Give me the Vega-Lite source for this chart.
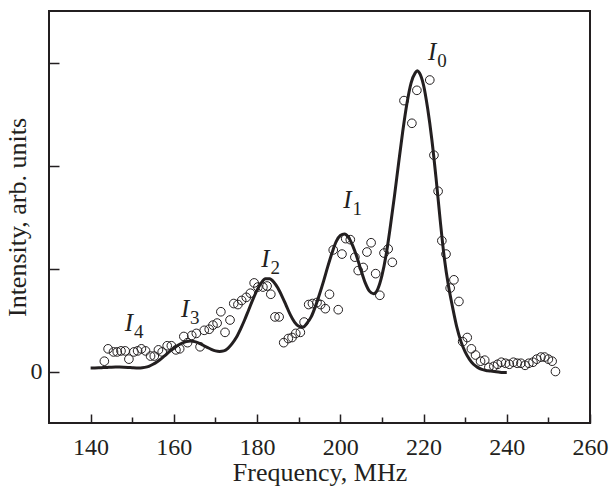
{
  "$schema": "https://vega.github.io/schema/vega-lite/v6.json",
  "width": 541,
  "height": 412,
  "autosize": "none",
  "padding": {"left": 49, "top": 11, "right": 21, "bottom": 65},
  "background": "white",
  "config": {
    "view": {"stroke": "#231f20", "strokeWidth": 2},
    "font": "Liberation Serif",
    "axis": {
      "labelFont": "Liberation Serif",
      "titleFont": "Liberation Serif",
      "labelColor": "#231f20",
      "titleColor": "#231f20",
      "tickColor": "#231f20",
      "labelFontSize": 24,
      "titleFontSize": 26,
      "titleFontWeight": "normal",
      "domain": false,
      "grid": false,
      "tickWidth": 1.5
    }
  },
  "datasets": {
    "fit": [
      {"f": 140, "v": 0.035}, {"f": 141, "v": 0.035}, {"f": 142, "v": 0.036}, {"f": 143, "v": 0.038},
      {"f": 144, "v": 0.04}, {"f": 145, "v": 0.042}, {"f": 146, "v": 0.043}, {"f": 147, "v": 0.043},
      {"f": 148, "v": 0.042}, {"f": 149, "v": 0.04}, {"f": 150, "v": 0.037}, {"f": 151, "v": 0.035},
      {"f": 152, "v": 0.035}, {"f": 153, "v": 0.04}, {"f": 154, "v": 0.05}, {"f": 155, "v": 0.07},
      {"f": 156, "v": 0.095}, {"f": 157, "v": 0.125}, {"f": 158, "v": 0.16}, {"f": 159, "v": 0.195},
      {"f": 160, "v": 0.225}, {"f": 161, "v": 0.255}, {"f": 162, "v": 0.275}, {"f": 163, "v": 0.29},
      {"f": 164, "v": 0.295}, {"f": 165, "v": 0.29}, {"f": 166, "v": 0.275}, {"f": 167, "v": 0.255},
      {"f": 168, "v": 0.235}, {"f": 169, "v": 0.215}, {"f": 170, "v": 0.2}, {"f": 171, "v": 0.195},
      {"f": 172, "v": 0.2}, {"f": 173, "v": 0.225}, {"f": 174, "v": 0.27}, {"f": 175, "v": 0.33},
      {"f": 176, "v": 0.41}, {"f": 177, "v": 0.5}, {"f": 178, "v": 0.6}, {"f": 179, "v": 0.7},
      {"f": 180, "v": 0.79}, {"f": 181, "v": 0.86}, {"f": 182, "v": 0.9}, {"f": 183, "v": 0.9},
      {"f": 184, "v": 0.87}, {"f": 185, "v": 0.81}, {"f": 186, "v": 0.73}, {"f": 187, "v": 0.64},
      {"f": 188, "v": 0.55}, {"f": 189, "v": 0.48}, {"f": 190, "v": 0.44}, {"f": 191, "v": 0.43},
      {"f": 192, "v": 0.47}, {"f": 193, "v": 0.53}, {"f": 194, "v": 0.63}, {"f": 195, "v": 0.75},
      {"f": 196, "v": 0.88}, {"f": 197, "v": 1.02}, {"f": 198, "v": 1.15}, {"f": 199, "v": 1.26},
      {"f": 200, "v": 1.32}, {"f": 201, "v": 1.335}, {"f": 202, "v": 1.3}, {"f": 203, "v": 1.22},
      {"f": 204, "v": 1.11}, {"f": 205, "v": 0.98}, {"f": 206, "v": 0.86}, {"f": 207, "v": 0.78},
      {"f": 208, "v": 0.755}, {"f": 209, "v": 0.8}, {"f": 210, "v": 0.93}, {"f": 211, "v": 1.13},
      {"f": 212, "v": 1.4}, {"f": 213, "v": 1.7}, {"f": 214, "v": 2.02}, {"f": 215, "v": 2.33},
      {"f": 216, "v": 2.6}, {"f": 217, "v": 2.8}, {"f": 218, "v": 2.9}, {"f": 218.5, "v": 2.92},
      {"f": 219, "v": 2.9}, {"f": 220, "v": 2.78}, {"f": 221, "v": 2.55}, {"f": 222, "v": 2.25},
      {"f": 223, "v": 1.88}, {"f": 224, "v": 1.47}, {"f": 225, "v": 1.1}, {"f": 226, "v": 0.83},
      {"f": 227, "v": 0.62}, {"f": 228, "v": 0.43}, {"f": 229, "v": 0.29}, {"f": 230, "v": 0.19},
      {"f": 231, "v": 0.12}, {"f": 232, "v": 0.07}, {"f": 233, "v": 0.04}, {"f": 234, "v": 0.02},
      {"f": 235, "v": 0.01}, {"f": 236, "v": 0.005}, {"f": 237, "v": 0.0}, {"f": 238, "v": -0.005},
      {"f": 239, "v": -0.01}, {"f": 240, "v": -0.01}
    ],
    "obs": [
      {"f": 143.3, "v": 0.10}, {"f": 144.2, "v": 0.22}, {"f": 145.5, "v": 0.19}, {"f": 146.4, "v": 0.19},
      {"f": 147.3, "v": 0.20}, {"f": 148.3, "v": 0.20}, {"f": 149.2, "v": 0.12}, {"f": 150.4, "v": 0.19},
      {"f": 151.3, "v": 0.20}, {"f": 152.2, "v": 0.22}, {"f": 153.2, "v": 0.20}, {"f": 154.4, "v": 0.15},
      {"f": 155.3, "v": 0.15}, {"f": 156.3, "v": 0.21}, {"f": 157.2, "v": 0.19}, {"f": 158.4, "v": 0.25},
      {"f": 159.4, "v": 0.25}, {"f": 160.5, "v": 0.21}, {"f": 161.4, "v": 0.22}, {"f": 162.4, "v": 0.34},
      {"f": 163.3, "v": 0.28}, {"f": 164.3, "v": 0.35}, {"f": 165.4, "v": 0.37}, {"f": 166.3, "v": 0.24},
      {"f": 167.3, "v": 0.40}, {"f": 168.5, "v": 0.41}, {"f": 169.4, "v": 0.45}, {"f": 170.4, "v": 0.47},
      {"f": 171.3, "v": 0.58}, {"f": 172.3, "v": 0.38}, {"f": 173.5, "v": 0.50}, {"f": 174.4, "v": 0.66},
      {"f": 175.4, "v": 0.65}, {"f": 176.3, "v": 0.69}, {"f": 177.4, "v": 0.72}, {"f": 178.4, "v": 0.76},
      {"f": 179.3, "v": 0.86}, {"f": 180.2, "v": 0.82}, {"f": 181.4, "v": 0.82}, {"f": 182.4, "v": 0.83},
      {"f": 183.3, "v": 0.75}, {"f": 184.3, "v": 0.53}, {"f": 185.3, "v": 0.53}, {"f": 186.4, "v": 0.28},
      {"f": 187.5, "v": 0.32}, {"f": 188.4, "v": 0.33}, {"f": 189.3, "v": 0.37}, {"f": 190.4, "v": 0.38},
      {"f": 191.3, "v": 0.48}, {"f": 192.4, "v": 0.65}, {"f": 193.3, "v": 0.66}, {"f": 194.4, "v": 0.67},
      {"f": 195.3, "v": 0.65}, {"f": 196.4, "v": 0.61}, {"f": 197.4, "v": 0.75}, {"f": 198.3, "v": 1.18},
      {"f": 199.5, "v": 0.60}, {"f": 200.4, "v": 1.14}, {"f": 201.3, "v": 1.29}, {"f": 202.4, "v": 1.28},
      {"f": 203.5, "v": 1.11}, {"f": 204.3, "v": 0.98}, {"f": 205.5, "v": 1.01}, {"f": 206.4, "v": 1.16},
      {"f": 207.4, "v": 1.25}, {"f": 208.5, "v": 0.95}, {"f": 209.5, "v": 0.74}, {"f": 210.5, "v": 1.15},
      {"f": 211.5, "v": 1.19}, {"f": 212.5, "v": 1.06}, {"f": 215.3, "v": 2.63}, {"f": 217.2, "v": 2.41},
      {"f": 218.4, "v": 2.73}, {"f": 221.5, "v": 2.83}, {"f": 222.5, "v": 2.10}, {"f": 223.5, "v": 1.75},
      {"f": 224.4, "v": 1.27}, {"f": 225.4, "v": 1.14}, {"f": 226.4, "v": 0.81}, {"f": 227.3, "v": 0.89},
      {"f": 228.5, "v": 0.68}, {"f": 229.4, "v": 0.29}, {"f": 230.5, "v": 0.33}, {"f": 231.5, "v": 0.22},
      {"f": 232.5, "v": 0.16}, {"f": 233.7, "v": 0.10}, {"f": 234.7, "v": 0.11}, {"f": 235.7, "v": 0.04},
      {"f": 236.9, "v": 0.05}, {"f": 237.8, "v": 0.07}, {"f": 238.7, "v": 0.09}, {"f": 239.7, "v": 0.08},
      {"f": 240.6, "v": 0.07}, {"f": 241.6, "v": 0.09}, {"f": 242.5, "v": 0.08}, {"f": 243.4, "v": 0.08},
      {"f": 244.4, "v": 0.06}, {"f": 245.3, "v": 0.08}, {"f": 246.3, "v": 0.09}, {"f": 247.2, "v": 0.12},
      {"f": 248.2, "v": 0.14}, {"f": 249.1, "v": 0.14}, {"f": 250.0, "v": 0.12}, {"f": 250.9, "v": 0.10},
      {"f": 251.7, "v": 0.00}
    ],
    "labels": [
      {"f": 222.1, "v": 3.02, "sub": "0"},
      {"f": 201.7, "v": 1.59, "sub": "1"},
      {"f": 182.0, "v": 1.01, "sub": "2"},
      {"f": 162.7, "v": 0.53, "sub": "3"},
      {"f": 149.2, "v": 0.39, "sub": "4"}
    ]
  },
  "resolve": {"axis": {"x": "independent", "y": "independent"}},
  "layer": [
    {
      "data": {"name": "fit"},
      "mark": {"type": "line", "color": "#231f20", "strokeWidth": 3, "interpolate": "monotone"},
      "encoding": {
        "x": {
          "field": "f", "type": "quantitative",
          "scale": {"domain": [130, 260], "nice": false, "zero": false},
          "axis": {
            "orient": "bottom",
            "values": [140, 160, 180, 200, 220, 240, 260],
            "tickSize": -9,
            "labelPadding": 21,
            "labelBaseline": "top",
            "labelFlush": false,
            "labelOverlap": false,
            "title": "Frequency, MHz",
            "titleBaseline": "alphabetic",
            "titleY": 57,
            "titleX": 270.5
          }
        },
        "y": {
          "field": "v", "type": "quantitative",
          "scale": {"domain": [-0.5, 3.5], "nice": false, "zero": false},
          "axis": {
            "orient": "left",
            "values": [0, 1, 2, 3],
            "tickSize": -10,
            "labelPadding": 17,
            "labelExpr": "datum.value === 0 ? '0' : ''",
            "labelBaseline": "middle",
            "title": "Intensity, arb. units",
            "titleAngle": -90,
            "titleBaseline": "alphabetic",
            "titleAlign": "center",
            "titleX": -24,
            "titleY": 206
          }
        }
      }
    },
    {
      "data": {"name": "obs"},
      "mark": {"type": "point", "shape": "circle", "filled": false, "color": "#231f20", "strokeWidth": 1, "size": 75, "opacity": 1},
      "encoding": {
        "x": {
          "field": "f", "type": "quantitative",
          "axis": {
            "orient": "bottom",
            "values": [150, 170, 190, 210, 230, 250],
            "tickSize": -6,
            "labels": false,
            "title": null
          }
        },
        "y": {"field": "v", "type": "quantitative", "axis": null}
      }
    },
    {
      "data": {"name": "labels"},
      "mark": {"type": "text", "font": "Liberation Serif", "fontStyle": "italic", "fontSize": 25, "align": "center", "baseline": "alphabetic", "color": "#231f20"},
      "encoding": {
        "x": {"field": "f", "type": "quantitative", "axis": null},
        "y": {"field": "v", "type": "quantitative", "axis": null},
        "text": {"value": "I"}
      }
    },
    {
      "data": {"name": "labels"},
      "mark": {"type": "text", "font": "Liberation Serif", "fontSize": 19, "align": "left", "baseline": "alphabetic", "dx": 5, "dy": 7, "color": "#231f20"},
      "encoding": {
        "x": {"field": "f", "type": "quantitative", "axis": null},
        "y": {"field": "v", "type": "quantitative", "axis": null},
        "text": {"field": "sub"}
      }
    }
  ]
}
